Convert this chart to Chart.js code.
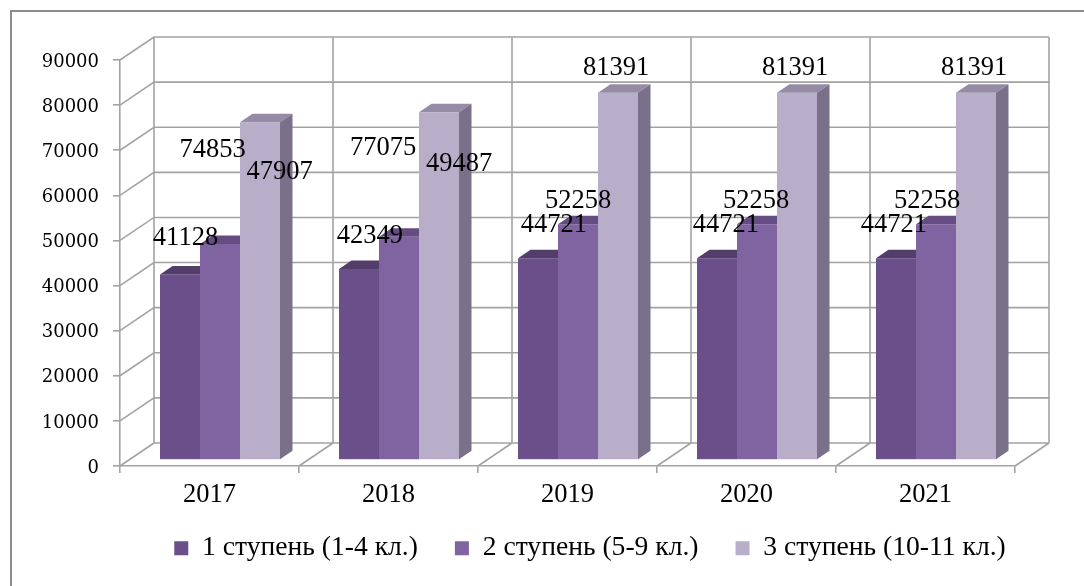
<!DOCTYPE html>
<html>
<head>
<meta charset="utf-8">
<script src="https://cdn.jsdelivr.net/npm/chart.js@4/dist/chart.umd.min.js"></script>
<style>
html,body{margin:0;padding:0;background:#fff;overflow:hidden;}
#wrap{width:1084px;height:586px;overflow:hidden;position:relative;}
#box{width:1180px;height:586px;}
canvas{display:block;}
</style>
</head>
<body>
<div id="wrap"><div id="box"><canvas id="c"></canvas></div></div>
<script>
// ---- data ----
const categories = ['2017', '2018', '2019', '2020', '2021'];
const seriesNames = ['1 ступень (1-4 кл.)', '2 ступень (5-9 кл.)', '3 ступень (10-11 кл.)'];
const stage1 = [41128, 42349, 44721, 44721, 44721];
const stage2 = [47907, 49487, 52258, 52258, 52258];
const stage3 = [74853, 77075, 81391, 81391, 81391];
const yTicks = [0, 10000, 20000, 30000, 40000, 50000, 60000, 70000, 80000, 90000];

// ---- styles / geometry ----
const frontColors = ['#6b4f8a', '#8064a2', '#b9aec9'];
const topColors = ['#523d6b', '#654d83', '#958ba6'];
const sideColors = ['#4a3760', '#5a4575', '#7a7089'];
const gridColor = '#a3a3a3';
const WALL = {x: 34, y: -23};      // full depth of the 3D box
const SHIFT = {x: 10.5, y: -6};    // bar front plane
const DEPTH = {x: 12.5, y: -8.5};  // bar depth
// data label offsets relative to bar top centre [series][category]
const labelOffsets = [
  [[5.5, -36], [11, -32.5], [16, -33], [9, -33], [-2, -33]],
  [[59.5, -72], [60, -72.5], [0, -23.5], [-1, -23.5], [-9, -23.5]],
  [[-47.5, 28], [-56, 36], [-2, -25], [-2, -25], [-2, -25]]
];
const serif = '"Liberation Serif", "Times New Roman", serif';

const threeD = {
  id: 'threeD',
  afterLayout(chart) {
    // let x tick labels extend below the (thin) axis box without clipping
    chart.scales.x.bottom = chart.scales.x.top + 60;
  },
  beforeDraw(chart) {
    const ctx = chart.ctx;
    ctx.save();
    ctx.strokeStyle = '#8c8c8c';
    ctx.lineWidth = 2;
    ctx.strokeRect(11, 11, chart.width + 40, chart.height + 40);
    ctx.restore();

    const ys = chart.scales.y;
    const L = chart.chartArea.left, R = chart.chartArea.right;
    const B = ys.getPixelForValue(0), T = ys.getPixelForValue(yTicks[yTicks.length - 1]);
    const n = categories.length;
    const cw = (R - L) / n;
    ctx.save();
    ctx.strokeStyle = gridColor;
    ctx.lineWidth = 1.6;
    ctx.beginPath();
    ys.ticks.forEach(t => {
      const py = ys.getPixelForValue(t.value);
      ctx.moveTo(L, py);
      ctx.lineTo(L + WALL.x, py + WALL.y);
      ctx.lineTo(R + WALL.x, py + WALL.y);
    });
    for (let i = 0; i <= n; i++) {
      const bx = L + i * cw;
      ctx.moveTo(bx + WALL.x, T + WALL.y);
      ctx.lineTo(bx + WALL.x, B + WALL.y);
      ctx.moveTo(bx, B);
      ctx.lineTo(bx + WALL.x, B + WALL.y);
    }
    ctx.stroke();
    ctx.restore();
  },
  beforeDatasetsDraw(chart) {
    const ctx = chart.ctx;
    const metas = [0, 1, 2].map(i => chart.getDatasetMeta(i));
    ctx.save();
    for (let c = 0; c < categories.length; c++) {
      for (let d = 0; d < metas.length; d++) {
        const el = metas[d].data[c];
        const p = el.getProps(['x', 'y', 'base', 'width'], true);
        const l = p.x - p.width / 2 + SHIFT.x, r = p.x + p.width / 2 + SHIFT.x;
        const t = p.y + SHIFT.y, b = p.base + SHIFT.y;
        ctx.fillStyle = frontColors[d];
        ctx.fillRect(l, t, r - l, b - t);
        ctx.fillStyle = topColors[d];
        ctx.beginPath();
        ctx.moveTo(l, t); ctx.lineTo(r, t);
        ctx.lineTo(r + DEPTH.x, t + DEPTH.y); ctx.lineTo(l + DEPTH.x, t + DEPTH.y);
        ctx.closePath(); ctx.fill();
        ctx.fillStyle = sideColors[d];
        ctx.beginPath();
        ctx.moveTo(r, t); ctx.lineTo(r + DEPTH.x, t + DEPTH.y);
        ctx.lineTo(r + DEPTH.x, b + DEPTH.y); ctx.lineTo(r, b);
        ctx.closePath(); ctx.fill();
      }
    }
    ctx.restore();
    return false;
  },
  afterDraw(chart) {
    const ctx = chart.ctx;
    ctx.save();
    ctx.font = '26.5px ' + serif;
    ctx.fillStyle = '#000';
    ctx.textAlign = 'center';
    ctx.textBaseline = 'middle';
    chart.data.datasets.forEach((ds, d) => {
      const meta = chart.getDatasetMeta(d);
      meta.data.forEach((el, c) => {
        const p = el.getProps(['x', 'y'], true);
        const off = labelOffsets[d][c];
        ctx.fillText(String(ds.data[c]), p.x + SHIFT.x + off[0], p.y + SHIFT.y + off[1]);
      });
    });
    ctx.restore();
  }
};

new Chart(document.getElementById('c'), {
  type: 'bar',
  data: {
    labels: categories,
    datasets: [
      {label: seriesNames[0], data: stage1, backgroundColor: frontColors[0]},
      {label: seriesNames[1], data: stage2, backgroundColor: frontColors[1]},
      {label: seriesNames[2], data: stage3, backgroundColor: frontColors[2]}
    ]
  },
  options: {
    responsive: true,
    maintainAspectRatio: false,
    animation: false,
    events: [],
    categoryPercentage: 0.6704,
    barPercentage: 1,
    layout: {padding: {left: 10, right: 10, top: 60, bottom: 14}},
    plugins: {
      tooltip: {enabled: false},
      legend: {
        position: 'bottom',
        labels: {
          boxWidth: 14, boxHeight: 14, padding: 37,
          color: '#000',
          font: {family: serif, size: 27.6}
        }
      }
    },
    scales: {
      x: {
        grid: {drawOnChartArea: false, color: gridColor, tickColor: gridColor, tickLength: 7, lineWidth: 1.6},
        border: {display: true, color: gridColor, width: 1.6},
        ticks: {color: '#000', font: {family: serif, size: 26.5}, padding: 6},
        afterFit(s) { s.height = 31.4; }
      },
      y: {
        min: 0, max: 90000,
        afterBuildTicks(s) { s.ticks = yTicks.map(v => ({value: v})); },
        grid: {drawOnChartArea: false, color: gridColor, tickColor: gridColor, tickLength: 7, lineWidth: 1.6},
        border: {display: true, color: gridColor, width: 1.6},
        ticks: {color: '#000', font: {family: '"DejaVu Serif", serif', size: 18}, padding: 14, labelOffset: 2, callback: v => String(v)},
        afterFit(s) { s.width = 110; }
      },
      yR: {
        type: 'linear', position: 'right', display: true,
        grid: {display: false}, border: {display: false},
        ticks: {display: false},
        afterFit(s) { s.width = 155; }
      }
    }
  },
  plugins: [threeD]
});
</script>
</body>
</html>
